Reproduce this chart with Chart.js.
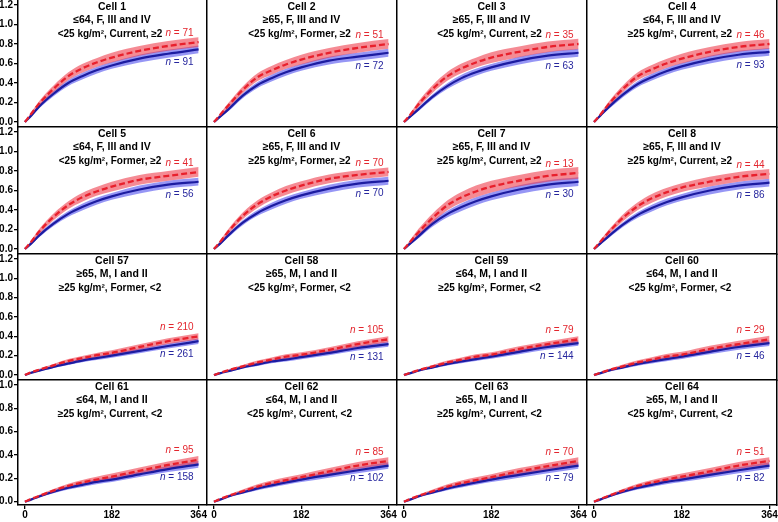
<!DOCTYPE html>
<html>
<head>
<meta charset="utf-8">
<script src="https://cdn.jsdelivr.net/npm/chart.js@4"></script>
<style>
  body { margin: 0; background: #fff; }
  #wrap { position: relative; width: 778px; height: 522px; overflow: hidden; background: #fff; }
  #wrap canvas { position: absolute; }
</style>
</head>
<body>
<div id="wrap"></div>
<script>
// days since start
const days = [0, 14, 30, 60, 91, 120, 150, 182, 240, 300, 364];
const xTicks = [0, 182, 364];
const yTicksTall = [0, 0.2, 0.4, 0.6, 0.8, 1.0, 1.2];
const yTicksShort = [0, 0.2, 0.4, 0.6, 0.8, 1.0];

const cellLabels = ['Cell 1', 'Cell 2', 'Cell 3', 'Cell 4', 'Cell 5', 'Cell 6', 'Cell 7', 'Cell 8',
  'Cell 57', 'Cell 58', 'Cell 59', 'Cell 60', 'Cell 61', 'Cell 62', 'Cell 63', 'Cell 64'];
const groupLines = ['≤64, F, III and IV', '≥65, F, III and IV', '≥65, F, III and IV', '≤64, F, III and IV',
  '≤64, F, III and IV', '≥65, F, III and IV', '≥65, F, III and IV', '≥65, F, III and IV',
  '≥65, M, I and II', '≥65, M, I and II', '≤64, M, I and II', '≤64, M, I and II',
  '≤64, M, I and II', '≤64, M, I and II', '≥65, M, I and II', '≥65, M, I and II'];
const riskLines = ['<25 kg/m², Current, ≥2', '<25 kg/m², Former, ≥2', '<25 kg/m², Current, ≥2', '≥25 kg/m², Current, ≥2',
  '<25 kg/m², Former, ≥2', '≥25 kg/m², Former, ≥2', '≥25 kg/m², Current, ≥2', '≥25 kg/m², Current, ≥2',
  '≥25 kg/m², Former, <2', '<25 kg/m², Former, <2', '≥25 kg/m², Former, <2', '<25 kg/m², Former, <2',
  '≥25 kg/m², Current, <2', '<25 kg/m², Current, <2', '≥25 kg/m², Current, <2', '<25 kg/m², Current, <2'];

const nRed = [71, 51, 35, 46, 41, 70, 13, 44, 210, 105, 79, 29, 95, 85, 70, 51];
const nBlue = [91, 72, 63, 93, 56, 70, 30, 86, 261, 131, 144, 46, 158, 102, 79, 82];

const redMid = [
  [0, 0.09, 0.19, 0.34, 0.47, 0.55, 0.61, 0.66, 0.73, 0.78, 0.82],
  [0, 0.08, 0.17, 0.33, 0.46, 0.53, 0.59, 0.64, 0.71, 0.76, 0.80],
  [0, 0.08, 0.18, 0.34, 0.47, 0.55, 0.61, 0.66, 0.72, 0.77, 0.80],
  [0, 0.08, 0.18, 0.34, 0.47, 0.54, 0.60, 0.65, 0.72, 0.77, 0.80],
  [0, 0.08, 0.18, 0.33, 0.45, 0.53, 0.59, 0.64, 0.71, 0.75, 0.79],
  [0, 0.08, 0.18, 0.34, 0.46, 0.54, 0.60, 0.65, 0.72, 0.76, 0.79],
  [0, 0.08, 0.17, 0.32, 0.45, 0.53, 0.59, 0.64, 0.70, 0.75, 0.78],
  [0, 0.08, 0.17, 0.32, 0.44, 0.52, 0.58, 0.63, 0.69, 0.74, 0.77],
  [0, 0.03, 0.055, 0.10, 0.145, 0.175, 0.205, 0.23, 0.29, 0.35, 0.40],
  [0, 0.025, 0.05, 0.09, 0.13, 0.16, 0.19, 0.21, 0.26, 0.32, 0.37],
  [0, 0.025, 0.05, 0.09, 0.13, 0.16, 0.19, 0.21, 0.27, 0.32, 0.37],
  [0, 0.025, 0.05, 0.09, 0.13, 0.16, 0.19, 0.21, 0.27, 0.32, 0.37],
  [0, 0.025, 0.05, 0.095, 0.135, 0.165, 0.19, 0.215, 0.265, 0.315, 0.36],
  [0, 0.025, 0.05, 0.09, 0.13, 0.16, 0.185, 0.21, 0.26, 0.31, 0.35],
  [0, 0.025, 0.05, 0.09, 0.13, 0.16, 0.185, 0.21, 0.26, 0.305, 0.35],
  [0, 0.025, 0.05, 0.095, 0.135, 0.165, 0.19, 0.215, 0.26, 0.31, 0.35]
];
const blueMid = [
  [0, 0.07, 0.16, 0.29, 0.40, 0.47, 0.53, 0.58, 0.65, 0.70, 0.745],
  [0, 0.06, 0.13, 0.27, 0.38, 0.45, 0.51, 0.56, 0.63, 0.67, 0.71],
  [0, 0.06, 0.13, 0.26, 0.37, 0.45, 0.51, 0.56, 0.63, 0.68, 0.71],
  [0, 0.07, 0.15, 0.28, 0.39, 0.46, 0.52, 0.57, 0.64, 0.69, 0.72],
  [0, 0.06, 0.14, 0.26, 0.36, 0.43, 0.49, 0.54, 0.61, 0.66, 0.69],
  [0, 0.06, 0.14, 0.27, 0.37, 0.44, 0.50, 0.55, 0.62, 0.67, 0.70],
  [0, 0.06, 0.13, 0.26, 0.36, 0.43, 0.49, 0.54, 0.61, 0.66, 0.69],
  [0, 0.06, 0.13, 0.25, 0.35, 0.42, 0.48, 0.53, 0.60, 0.65, 0.68],
  [0, 0.025, 0.045, 0.085, 0.12, 0.15, 0.175, 0.20, 0.25, 0.30, 0.35],
  [0, 0.02, 0.04, 0.08, 0.11, 0.14, 0.16, 0.185, 0.23, 0.28, 0.32],
  [0, 0.02, 0.045, 0.08, 0.115, 0.14, 0.165, 0.19, 0.24, 0.29, 0.33],
  [0, 0.02, 0.045, 0.08, 0.115, 0.14, 0.165, 0.19, 0.24, 0.29, 0.33],
  [0, 0.02, 0.045, 0.085, 0.12, 0.145, 0.17, 0.19, 0.235, 0.28, 0.32],
  [0, 0.02, 0.045, 0.08, 0.115, 0.14, 0.165, 0.19, 0.23, 0.27, 0.31],
  [0, 0.02, 0.045, 0.08, 0.115, 0.14, 0.165, 0.19, 0.23, 0.27, 0.31],
  [0, 0.02, 0.045, 0.085, 0.12, 0.145, 0.17, 0.19, 0.23, 0.27, 0.31]
];
// half width of the shaded bands
const redHalf = [
  [0, 0.015, 0.025, 0.035, 0.04, 0.045, 0.045, 0.05, 0.05, 0.05, 0.05],
  [0, 0.015, 0.025, 0.035, 0.04, 0.045, 0.045, 0.05, 0.05, 0.05, 0.05],
  [0, 0.015, 0.03, 0.04, 0.045, 0.05, 0.05, 0.055, 0.055, 0.055, 0.055],
  [0, 0.015, 0.025, 0.035, 0.04, 0.045, 0.045, 0.05, 0.05, 0.05, 0.05],
  [0, 0.015, 0.025, 0.035, 0.04, 0.045, 0.045, 0.05, 0.05, 0.05, 0.05],
  [0, 0.015, 0.025, 0.035, 0.04, 0.04, 0.045, 0.045, 0.045, 0.045, 0.045],
  [0, 0.02, 0.035, 0.045, 0.05, 0.055, 0.06, 0.06, 0.06, 0.06, 0.06],
  [0, 0.015, 0.025, 0.035, 0.04, 0.045, 0.045, 0.045, 0.05, 0.05, 0.05],
  [0, 0.005, 0.01, 0.015, 0.02, 0.022, 0.024, 0.026, 0.028, 0.03, 0.032],
  [0, 0.005, 0.01, 0.015, 0.02, 0.022, 0.024, 0.026, 0.028, 0.03, 0.032],
  [0, 0.005, 0.01, 0.015, 0.02, 0.022, 0.024, 0.026, 0.028, 0.03, 0.032],
  [0, 0.006, 0.012, 0.018, 0.022, 0.025, 0.028, 0.03, 0.032, 0.034, 0.036],
  [0, 0.005, 0.01, 0.015, 0.02, 0.022, 0.024, 0.026, 0.028, 0.03, 0.032],
  [0, 0.005, 0.01, 0.015, 0.02, 0.022, 0.024, 0.026, 0.028, 0.03, 0.032],
  [0, 0.005, 0.01, 0.015, 0.02, 0.022, 0.024, 0.026, 0.028, 0.03, 0.032],
  [0, 0.005, 0.01, 0.015, 0.02, 0.022, 0.024, 0.026, 0.028, 0.03, 0.032]
];
const blueHalf = [
  [0, 0.01, 0.02, 0.025, 0.03, 0.035, 0.035, 0.035, 0.04, 0.04, 0.04],
  [0, 0.01, 0.02, 0.025, 0.03, 0.035, 0.035, 0.035, 0.04, 0.04, 0.04],
  [0, 0.01, 0.02, 0.025, 0.03, 0.035, 0.035, 0.035, 0.04, 0.04, 0.04],
  [0, 0.01, 0.02, 0.025, 0.03, 0.035, 0.035, 0.035, 0.04, 0.04, 0.04],
  [0, 0.01, 0.02, 0.025, 0.03, 0.035, 0.035, 0.035, 0.04, 0.04, 0.04],
  [0, 0.01, 0.02, 0.025, 0.03, 0.035, 0.035, 0.035, 0.04, 0.04, 0.04],
  [0, 0.012, 0.022, 0.03, 0.035, 0.04, 0.04, 0.04, 0.045, 0.045, 0.045],
  [0, 0.01, 0.02, 0.025, 0.03, 0.035, 0.035, 0.035, 0.04, 0.04, 0.04],
  [0, 0.005, 0.008, 0.012, 0.016, 0.018, 0.02, 0.022, 0.024, 0.026, 0.028],
  [0, 0.005, 0.008, 0.012, 0.016, 0.018, 0.02, 0.022, 0.024, 0.026, 0.028],
  [0, 0.005, 0.008, 0.012, 0.016, 0.018, 0.02, 0.022, 0.024, 0.026, 0.028],
  [0, 0.006, 0.01, 0.014, 0.018, 0.02, 0.022, 0.024, 0.026, 0.028, 0.03],
  [0, 0.005, 0.008, 0.012, 0.016, 0.018, 0.02, 0.022, 0.024, 0.026, 0.028],
  [0, 0.005, 0.008, 0.012, 0.016, 0.018, 0.02, 0.022, 0.024, 0.026, 0.028],
  [0, 0.005, 0.008, 0.012, 0.016, 0.018, 0.02, 0.022, 0.024, 0.026, 0.028],
  [0, 0.005, 0.008, 0.012, 0.016, 0.018, 0.02, 0.022, 0.024, 0.026, 0.028]
];

const FONT = "'Liberation Sans', Arial, sans-serif";
const redLine = '#e8202c', blueLine = '#1c1ca0';
const redBand = 'rgba(238, 55, 70, 0.58)', blueBand = 'rgba(80, 80, 238, 0.6)';
const redText = '#e3262e', blueText = '#26269e';

// panel grid (page pixels)
const colEdges = [18, 207, 397, 587, 777];
const rowEdges = [0, 127, 254, 380, 505];

const wrap = document.getElementById('wrap');

function drawN(ctx, n, xr, yc, color) {
  ctx.fillStyle = color;
  ctx.textBaseline = 'middle';
  ctx.textAlign = 'left';
  ctx.font = 'italic 10px ' + FONT;
  const wN = ctx.measureText('n').width;
  ctx.font = '10px ' + FONT;
  const rest = ' = ' + n;
  const wR = ctx.measureText(rest).width;
  const x0 = xr - wN - wR;
  ctx.font = 'italic 10px ' + FONT;
  ctx.fillText('n', x0, yc);
  ctx.font = '10px ' + FONT;
  ctx.fillText(rest, x0 + wN, yc);
}

const cellText = {
  id: 'cellText',
  afterDatasetsDraw(chart) {
    const i = chart.options.plugins.cellText.index;
    const {ctx, chartArea: a, scales: {x, y}} = chart;
    ctx.save();
    ctx.fillStyle = '#000';
    ctx.textAlign = 'center';
    ctx.textBaseline = 'middle';
    const cx = (a.left + a.right) / 2;
    ctx.font = 'bold 10.5px ' + FONT;
    ctx.fillText(cellLabels[i], cx, a.top + 7);
    ctx.fillText(groupLines[i], cx, a.top + 20.5);
    ctx.font = 'bold 10px ' + FONT;
    ctx.fillText(riskLines[i], cx - 2, a.top + 34);
    const last = days.length - 1;
    const xr = x.getPixelForValue(days[last]) - 5;
    drawN(ctx, nRed[i], xr, y.getPixelForValue(redMid[i][last]) - 9, redText);
    drawN(ctx, nBlue[i], xr, y.getPixelForValue(blueMid[i][last]) + 13, blueText);
    ctx.restore();
  }
};

function panel(i) {
  const r = Math.floor(i / 4), c = i % 4;
  const left = colEdges[c] - 18;
  const w = colEdges[c + 1] - left + (c === 3 ? 1 : 0);
  const h = rowEdges[r + 1] - rowEdges[r] + 18;
  const cv = document.createElement('canvas');
  cv.width = w; cv.height = h;
  cv.style.left = left + 'px';
  cv.style.top = rowEdges[r] + 'px';
  cv.style.width = w + 'px';
  cv.style.height = h + 'px';
  wrap.appendChild(cv);

  const pts = vals => days.map((d, k) => ({x: d, y: vals[k]}));
  const shift = (vals, half, sign) => vals.map((v, k) => Math.max(0, v + sign * half[k]));
  const yTicks = r === 3 ? yTicksShort : yTicksTall;
  const yMin = r === 3 ? -0.028 : -0.051;
  const yMax = r === 3 ? 1.043 : 1.251;
  const band = {borderWidth: 0, borderColor: 'transparent', pointRadius: 0};

  new Chart(cv, {
    type: 'line',
    data: {
      datasets: [
        {data: pts(redMid[i]), borderColor: redLine, borderWidth: 2.3, borderDash: [6, 3], pointRadius: 0, fill: false, order: 0},
        {data: pts(blueMid[i]), borderColor: blueLine, borderWidth: 2.2, pointRadius: 0, fill: false, order: 1},
        Object.assign({data: pts(shift(redMid[i], redHalf[i], 1)), fill: '+1', backgroundColor: redBand, order: 2}, band),
        Object.assign({data: pts(shift(redMid[i], redHalf[i], -1)), fill: false, order: 2}, band),
        Object.assign({data: pts(shift(blueMid[i], blueHalf[i], 1)), fill: '+1', backgroundColor: blueBand, order: 3}, band),
        Object.assign({data: pts(shift(blueMid[i], blueHalf[i], -1)), fill: false, order: 3}, band)
      ]
    },
    options: {
      responsive: false,
      animation: false,
      devicePixelRatio: 1,
      layout: {padding: 0, autoPadding: false},
      elements: {line: {cubicInterpolationMode: 'monotone'}},
      plugins: {legend: {display: false}, tooltip: {enabled: false}, cellText: {index: i}},
      scales: {
        x: {
          type: 'linear', min: -14.5, max: 379.5,
          afterBuildTicks: s => { s.ticks = xTicks.map(v => ({value: v})); },
          afterFit: s => { s.height = 18; s.paddingLeft = 0; s.paddingRight = 0; },
          grid: {display: r === 3, drawOnChartArea: false, tickLength: 4, color: '#000', lineWidth: 1.3},
          border: {display: true, color: '#000', width: 1.5},
          ticks: {display: r === 3, color: '#000', padding: 0, maxRotation: 0, autoSkip: false,
            font: {family: FONT, weight: 'bold', size: 10}}
        },
        y: {
          type: 'linear', min: yMin, max: yMax,
          afterBuildTicks: s => { s.ticks = yTicks.map(v => ({value: v})); },
          afterFit: s => { s.width = 18; s.paddingTop = 0; s.paddingBottom = 0; },
          grid: {display: c === 0, drawOnChartArea: false, tickLength: 4, color: '#000', lineWidth: 1.3},
          border: {display: true, color: '#000', width: 1.5},
          ticks: {display: c === 0, color: '#000', padding: 1, callback: v => v.toFixed(1),
            font: {family: FONT, weight: 'bold', size: 10}}
        },
        yr: {
          type: 'linear', position: 'right', display: c === 3, min: yMin, max: yMax,
          afterFit: s => { s.width = 1; s.paddingTop = 0; s.paddingBottom = 0; },
          grid: {display: false},
          border: {display: true, color: '#000', width: 1.5},
          ticks: {display: false}
        }
      }
    },
    plugins: [cellText]
  });
}

for (let i = 0; i < 16; i++) panel(i);
</script>
</body>
</html>
